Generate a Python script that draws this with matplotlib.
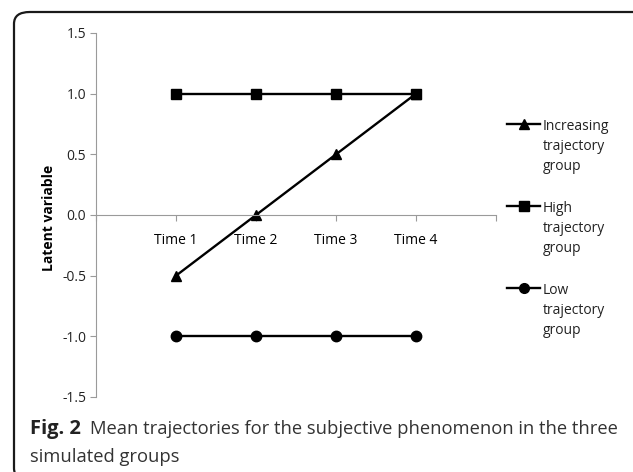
import matplotlib
matplotlib.use("Agg")
import matplotlib.pyplot as plt
from matplotlib.patches import FancyBboxPatch
from matplotlib.lines import Line2D

categories = ["Time 1", "Time 2", "Time 3", "Time 4"]
increasing = [-0.5, 0.0, 0.5, 1.0]
high = [1.0, 1.0, 1.0, 1.0]
low = [-1.0, -1.0, -1.0, -1.0]
series_labels = ["Increasing\ntrajectory\ngroup", "High\ntrajectory\ngroup", "Low\ntrajectory\ngroup"]
series_markers = ["^", "s", "o"]
yticks = [-1.5, -1.0, -0.5, 0.0, 0.5, 1.0, 1.5]

W, H = 633, 472
fig = plt.figure(figsize=(W / 100, H / 100), dpi=100)
plt.rcParams['font.family'] = ['Open Sans', 'DejaVu Sans']


def fx(px):
    return px / W


def fy(py):
    return 1 - py / H


# frame
frame = FancyBboxPatch((fx(14), fy(480)), (660 - 14) / W, (480 - 12) / H,
                       boxstyle="round,pad=0,rounding_size=0.025",
                       transform=fig.transFigure, fill=False, edgecolor="#1a1a1a",
                       linewidth=1.6, clip_on=False)
fig.patches.append(frame)

ax = fig.add_axes([fx(96), fy(397), (496 - 96) / W, (397 - 33) / H])
x = list(range(1, len(categories) + 1))
for vals, m in zip([increasing, high, low], series_markers):
    ax.plot(x, vals, color="black", lw=1.7, marker=m, ms=7.5, clip_on=False)

ax.set_xlim(0, len(categories) + 1)
ax.set_ylim(-1.5, 1.5)
ax.set_yticks(yticks)
ax.set_yticklabels([f"{v:.1f}" for v in yticks], fontsize=10, color="#222222")
ax.set_xticks([0] + x + [len(categories) + 1])
ax.set_xticklabels([""] + categories + [""], fontsize=9.8, color="#222222")

gray = "#9a9a9a"
for s in ["top", "right"]:
    ax.spines[s].set_visible(False)
ax.spines["left"].set_color(gray)
ax.spines["bottom"].set_color(gray)
ax.spines["bottom"].set_position(("data", 0))
ax.tick_params(axis="y", length=4, color=gray, pad=3)
ax.tick_params(axis="x", length=4, color=gray, pad=9)

ax.set_ylabel("Latent variable", fontsize=10, fontweight="bold")
ax.yaxis.set_label_coords(-40 / (496 - 96), (397 - 218) / (397 - 33))

# legend (manual, marker aligned with first text line)
legend_y = [124, 206, 288]
for lab, m, py in zip(series_labels, series_markers, legend_y):
    fig.add_artist(Line2D([fx(507), fx(540)], [fy(py), fy(py)], color="black", lw=1.7,
                          transform=fig.transFigure))
    fig.add_artist(Line2D([fx(523.5)], [fy(py)], color="black", marker=m, ms=7,
                          transform=fig.transFigure))
    fig.text(fx(543), fy(py - 5), lab, fontsize=10, color="#222222",
             va="top", ha="left", linespacing=1.45)

fig.text(fx(30), fy(429), "Fig. 2", fontsize=14.5, fontweight="bold",
         color="#222222", va="center", ha="left")
fig.text(fx(90), fy(429), "Mean trajectories for the subjective phenomenon in the three",
         fontsize=13.25, color="#333333", va="center", ha="left")
fig.text(fx(30), fy(457), "simulated groups",
         fontsize=13.25, color="#333333", va="center", ha="left")

fig.savefig("out.png", dpi=100)
